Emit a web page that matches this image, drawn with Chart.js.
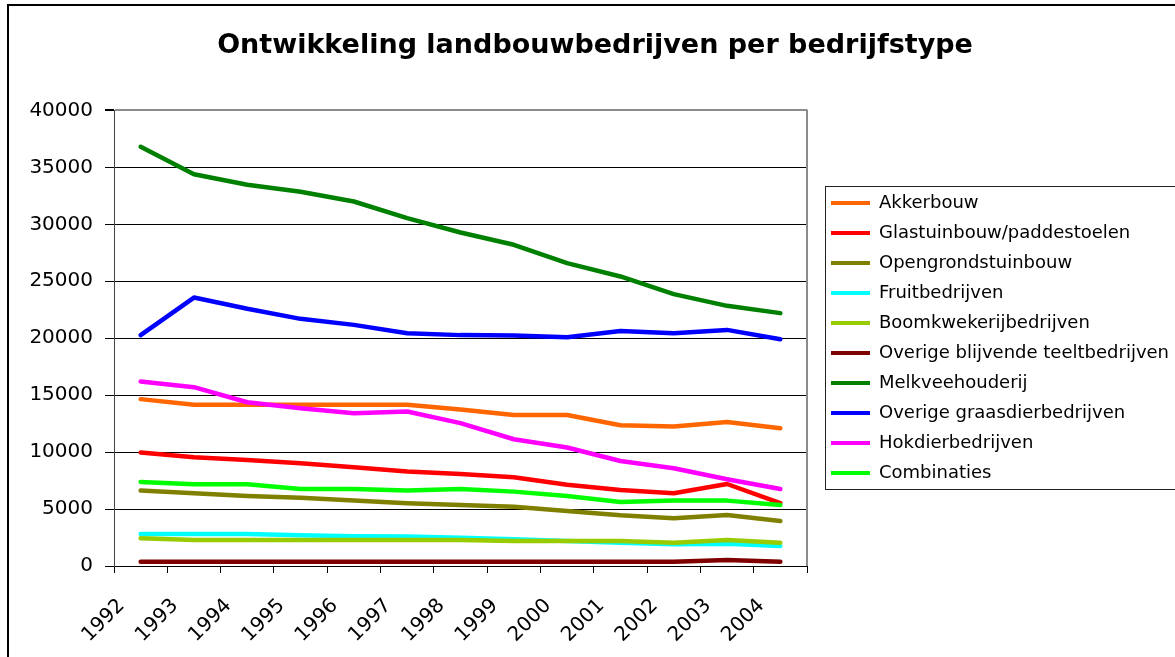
<!DOCTYPE html>
<html><head><meta charset="utf-8">
<script src="https://cdn.jsdelivr.net/npm/chart.js@4.4.1/dist/chart.umd.min.js"></script>
<style>html,body{margin:0;padding:0;background:#fff}canvas{display:block}</style>
</head><body>
<canvas id="c" width="1175" height="657"></canvas>
<script>
// ---- data ----
const years = ['1992','1993','1994','1995','1996','1997','1998','1999','2000','2001','2002','2003','2004'];
const seriesNames = ['Akkerbouw','Glastuinbouw/paddestoelen','Opengrondstuinbouw','Fruitbedrijven','Boomkwekerijbedrijven','Overige blijvende teeltbedrijven','Melkveehouderij','Overige graasdierbedrijven','Hokdierbedrijven','Combinaties'];
const akkerbouw      = [14650,14150,14150,14150,14150,14150,13750,13250,13250,12350,12250,12650,12100];
const glastuinbouw   = [9960,9550,9310,9020,8670,8290,8080,7790,7140,6680,6380,7200,5510];
const opengrond      = [6620,6380,6150,6000,5740,5510,5360,5210,4830,4450,4190,4480,3950];
const fruit          = [2810,2810,2810,2700,2610,2580,2490,2350,2200,2050,1900,1950,1760];
const boomkwekerij   = [2430,2280,2280,2280,2280,2280,2280,2200,2200,2200,2050,2280,2050];
const overigBlijvend = [380,380,380,380,380,380,380,380,380,380,380,520,380];
const melkvee        = [36800,34400,33470,32860,32000,30540,29280,28200,26590,25420,23870,22840,22200];
const overigGraas    = [20270,23570,22580,21700,21170,20440,20270,20230,20090,20640,20440,20730,19910];
const hokdier        = [16190,15700,14380,13850,13410,13560,12540,11130,10400,9220,8580,7620,6760];
const combinaties    = [7380,7170,7170,6760,6760,6620,6760,6530,6150,5620,5740,5740,5360];
const yTicksMin = 0, yTicksMax = 40000, yStep = 5000;

const seriesValues = [akkerbouw, glastuinbouw, opengrond, fruit, boomkwekerij, overigBlijvend, melkvee, overigGraas, hokdier, combinaties];
const seriesColors = ['#FF6600','#FF0000','#808000','#00FFFF','#99CC00','#800000','#008000','#0000FF','#FF00FF','#00FF00'];

Chart.defaults.font.family = "'DejaVu Sans', sans-serif";
Chart.defaults.color = '#000';

const W = 1175, H = 657;
const PLOT_LEFT = 114, PLOT_RIGHT = 807, PLOT_BOTTOM = 566;

const datasets = seriesNames.map((name, i) => ({
  label: name,
  data: seriesValues[i],
  borderColor: seriesColors[i],
  backgroundColor: seriesColors[i],
  borderWidth: 4.5,
  pointRadius: 0,
  pointHoverRadius: 0,
  tension: 0,
  fill: false,
  borderCapStyle: 'round',
  borderJoinStyle: 'round',
  order: -i
}));

const framePlugin = {
  id: 'frame',
  beforeLayout(chart) {
    const lg = chart.legend;
    if (lg && !lg._patched) {
      const f = lg.fit.bind(lg);
      lg.fit = function () { f(); this.width = W - PLOT_RIGHT; };
      lg._patched = true;
    }
  },
  afterLayout(chart) {
    const lg = chart.legend;
    if (lg) {
      lg.left = 819; lg.right = W; lg.top = 182; lg.bottom = H;
      lg.width = lg.right - lg.left; lg.height = lg.bottom - lg.top;
    }
  },
  beforeDraw(chart) {
    const ctx = chart.ctx;
    ctx.save();
    ctx.fillStyle = '#fff';
    ctx.fillRect(0, 0, W, H);
    ctx.restore();
  },
  beforeDatasetsDraw(chart) {
    const {ctx, chartArea} = chart;
    ctx.save();
    ctx.strokeStyle = '#8c8c8c';
    ctx.lineWidth = 2;
    ctx.beginPath();
    ctx.moveTo(chartArea.right, chartArea.top - 1);
    ctx.lineTo(chartArea.right, chartArea.bottom);
    ctx.stroke();
    ctx.restore();
  },
  afterDraw(chart) {
    const ctx = chart.ctx;
    ctx.save();
    ctx.strokeStyle = '#000';
    ctx.lineWidth = 2;
    ctx.beginPath();
    ctx.moveTo(8, H + 5);
    ctx.lineTo(8, 5);
    ctx.lineTo(W + 5, 5);
    ctx.stroke();
    ctx.lineWidth = 1;
    ctx.strokeStyle = '#222';
    ctx.strokeRect(825.5, 186.5, 400, 303);
    ctx.restore();
  }
};

new Chart(document.getElementById('c'), {
  type: 'line',
  data: { labels: years, datasets },
  plugins: [framePlugin],
  options: {
    responsive: false,
    animation: false,
    layout: { padding: { left: 15, top: 0, right: 0, bottom: 0 } },
    plugins: {
      tooltip: { enabled: false },
      title: {
        display: true,
        text: 'Ontwikkeling landbouwbedrijven per bedrijfstype',
        color: '#000',
        font: { size: 27, weight: 'bold', family: "'DejaVu Sans', sans-serif", lineHeight: 1.2 },
        padding: { top: 30, bottom: 48 }
      },
      legend: {
        display: true,
        position: 'right',
        align: 'start',
        labels: {
          boxWidth: 39,
          boxHeight: 4,
          padding: 12,
          color: '#000',
          font: { size: 18 },
          generateLabels: (chart) => chart.data.datasets.map((ds, i) => ({
            text: ds.label,
            fillStyle: ds.borderColor,
            strokeStyle: ds.borderColor,
            lineWidth: 0,
            hidden: false,
            datasetIndex: i,
            fontColor: '#000'
          }))
        }
      }
    },
    scales: {
      x: {
        type: 'category',
        offset: true,
        afterFit: (s) => { s.height = H - PLOT_BOTTOM; },
        grid: { display: true, offset: true, drawOnChartArea: false, drawTicks: true, tickLength: 7, color: '#000', lineWidth: 1 },
        border: { display: true, color: '#000', width: 1 },
        ticks: { autoSkip: false, minRotation: 45, maxRotation: 45, labelOffset: -19, padding: 21, font: { size: 20 }, color: '#000' }
      },
      y: {
        min: yTicksMin,
        max: yTicksMax,
        afterFit: (s) => { s.width = PLOT_LEFT - 15; },
        ticks: { stepSize: yStep, padding: 12, font: { size: 20 }, color: '#000', callback: (v) => String(v) },
        grid: {
          color: (c) => (c.tick && c.tick.value === yTicksMax) ? '#8c8c8c' : '#000',
          lineWidth: (c) => (c.tick && c.tick.value === yTicksMax) ? 2 : 1,
          tickColor: '#000',
          tickLength: 9,
          drawTicks: true
        },
        border: { display: true, color: '#444', width: 1 }
      }
    }
  }
});
</script>
</body></html>
